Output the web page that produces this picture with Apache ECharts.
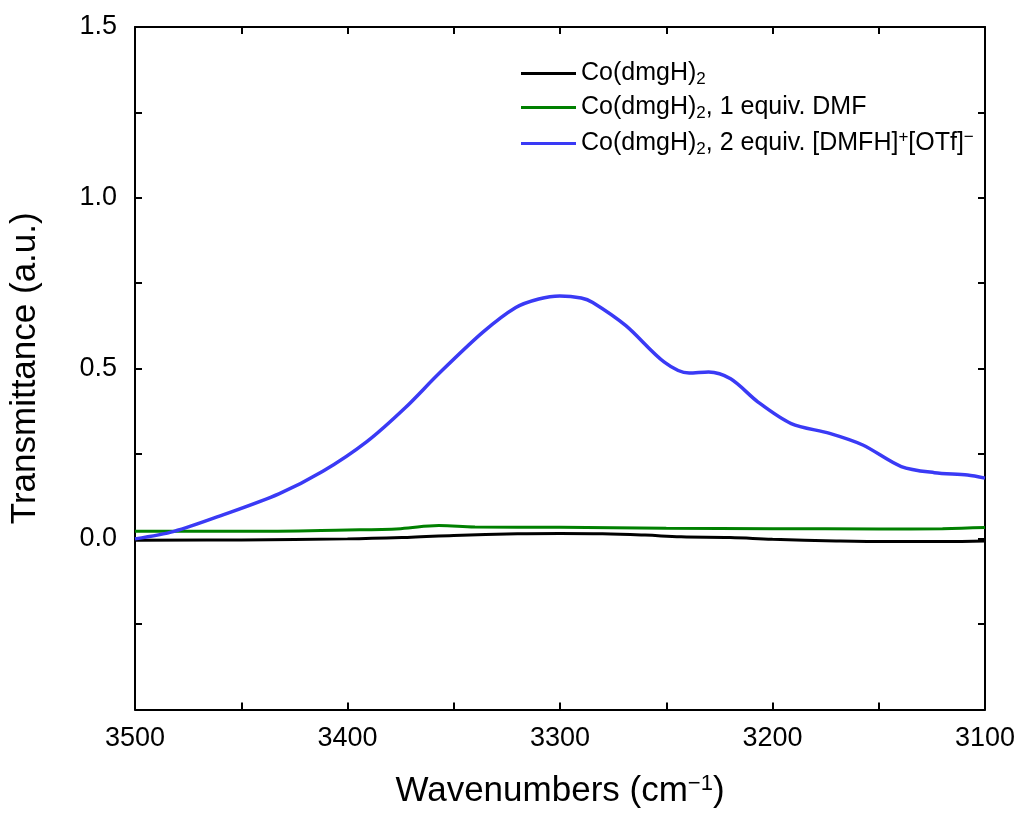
<!DOCTYPE html>
<html>
<head>
<meta charset="utf-8">
<script src="https://cdn.jsdelivr.net/npm/echarts@6/dist/echarts.min.js"></script>
<style>html,body{margin:0;padding:0;background:#fff}#c{width:1019px;height:814px}</style>
</head>
<body>
<div id="c"></div>
<script>
const seriesNames = ['Co(dmgH)2', 'Co(dmgH)2, 1 equiv. DMF', 'Co(dmgH)2, 2 equiv. [DMFH]+[OTf]-'];
const blackX = [3500, 3450, 3400, 3370, 3350, 3320, 3300, 3280, 3260, 3243, 3220, 3200, 3170, 3145, 3120, 3100];
const blackY = [-0.004, -0.003, 0.0, 0.005, 0.010, 0.015, 0.016, 0.015, 0.011, 0.006, 0.004, -0.001, -0.006, -0.008, -0.008, -0.006];
const greenX = [3500, 3450, 3400, 3375, 3357, 3340, 3300, 3250, 3200, 3150, 3120, 3100];
const greenY = [0.022, 0.022, 0.026, 0.030, 0.039, 0.035, 0.034, 0.031, 0.030, 0.029, 0.030, 0.033];
const blueX = [3500, 3481.6, 3458.3, 3432.3, 3411.6, 3390.9, 3372.7, 3357.2, 3336.4, 3320.8, 3310, 3300.1, 3290, 3284.6, 3269, 3250.9, 3239.2, 3230.1, 3219.7, 3206.8, 3191.2, 3173.1, 3157.5, 3139.4, 3123.8, 3108.2, 3100];
const blueY = [0.0, 0.022, 0.071, 0.132, 0.198, 0.285, 0.385, 0.483, 0.605, 0.678, 0.703, 0.712, 0.706, 0.693, 0.625, 0.518, 0.486, 0.489, 0.469, 0.401, 0.338, 0.309, 0.275, 0.212, 0.194, 0.187, 0.178];
const xTicks = [3500, 3400, 3300, 3200, 3100];
const yTicks = [0.0, 0.5, 1.0, 1.5];

const zip = (xs, ys) => xs.map((x, i) => [x, ys[i]]);
const font = 'Liberation Sans, Arial, sans-serif';
const legendLabels = {
  [seriesNames[0]]: '{t|Co(dmgH)}{sub|2}',
  [seriesNames[1]]: '{t|Co(dmgH)}{sub|2}{t|, 1 equiv. DMF}',
  [seriesNames[2]]: '{t|Co(dmgH)}{sub|2}{t|, 2 equiv. [DMFH]}{sup|+}{t|[OTf]}{sup|\u2212}'
};
const chart = echarts.init(document.getElementById('c'));
const axisLine = {show: true, onZero: false, lineStyle: {color: '#000', width: 2}};
const tick = {show: true, inside: true, length: 7, lineStyle: {color: '#000', width: 2}};
const minor = {show: true, splitNumber: 2, length: 7, lineStyle: {color: '#000', width: 2}};
chart.setOption({
  animation: false,
  backgroundColor: '#fff',
  grid: {left: 135, right: 34, top: 27, bottom: 100, containLabel: false},
  legend: {
    data: seriesNames.map(n => ({name: n, icon: 'rect'})),
    orient: 'vertical', left: 516, top: 56, itemWidth: 55, itemHeight: 3, itemGap: 7,
    formatter: n => legendLabels[n],
    textStyle: {
      fontFamily: font, fontSize: 25, color: '#000',
      rich: {
        t: {fontFamily: font, fontSize: 25, color: '#000'},
        sub: {fontFamily: font, fontSize: 17, color: '#000', verticalAlign: 'bottom', padding: [12, 0, 0, 0]},
        sup: {fontFamily: font, fontSize: 17, color: '#000', verticalAlign: 'top', padding: [0, 0, 12, 0]}
      }
    }
  },
  xAxis: [{
    type: 'value', inverse: true, min: 3100, max: 3500, interval: 100, position: 'bottom',
    axisLine, axisTick: tick, minorTick: minor, splitLine: {show: false},
    axisLabel: {color: '#000', fontFamily: font, fontSize: 27, margin: 16, formatter: v => xTicks.includes(v) ? String(v) : ''},
    name: 'Wavenumbers (cm{sup|\u22121})', nameLocation: 'middle', nameGap: 63,
    nameTextStyle: {color: '#000', fontFamily: font, fontSize: 35,
      rich: {sup: {fontFamily: font, fontSize: 22, color: '#000', verticalAlign: 'top', padding: [0, 0, 16, 0]}}}
  }, {
    type: 'value', inverse: true, min: 3100, max: 3500, interval: 100, position: 'top',
    axisLine, axisTick: tick, minorTick: minor, splitLine: {show: false}, axisLabel: {show: false}
  }],
  yAxis: [{
    type: 'value', min: -0.5, max: 1.5, interval: 0.5, position: 'left',
    axisLine, axisTick: tick, minorTick: minor, splitLine: {show: false},
    axisLabel: {color: '#000', fontFamily: font, fontSize: 27, margin: 18, formatter: v => yTicks.includes(v) ? v.toFixed(1) : ''},
    name: 'Transmittance (a.u.)', nameLocation: 'middle', nameGap: 92, nameRotate: 90,
    nameTextStyle: {color: '#000', fontFamily: font, fontSize: 35}
  }, {
    type: 'value', min: -0.5, max: 1.5, interval: 0.5, position: 'right',
    axisLine, axisTick: tick, minorTick: minor, splitLine: {show: false}, axisLabel: {show: false}
  }],
  series: [
    {name: seriesNames[0], type: 'line', data: zip(blackX, blackY), smooth: 0.4, showSymbol: false, color: '#000000', lineStyle: {width: 3}},
    {name: seriesNames[1], type: 'line', data: zip(greenX, greenY), smooth: 0.4, showSymbol: false, color: '#008000', lineStyle: {width: 3}},
    {name: seriesNames[2], type: 'line', data: zip(blueX, blueY), smooth: 0.3, showSymbol: false, color: '#3a3af5', lineStyle: {width: 3.5}, z: 3}
  ]
});
</script>
</body>
</html>
